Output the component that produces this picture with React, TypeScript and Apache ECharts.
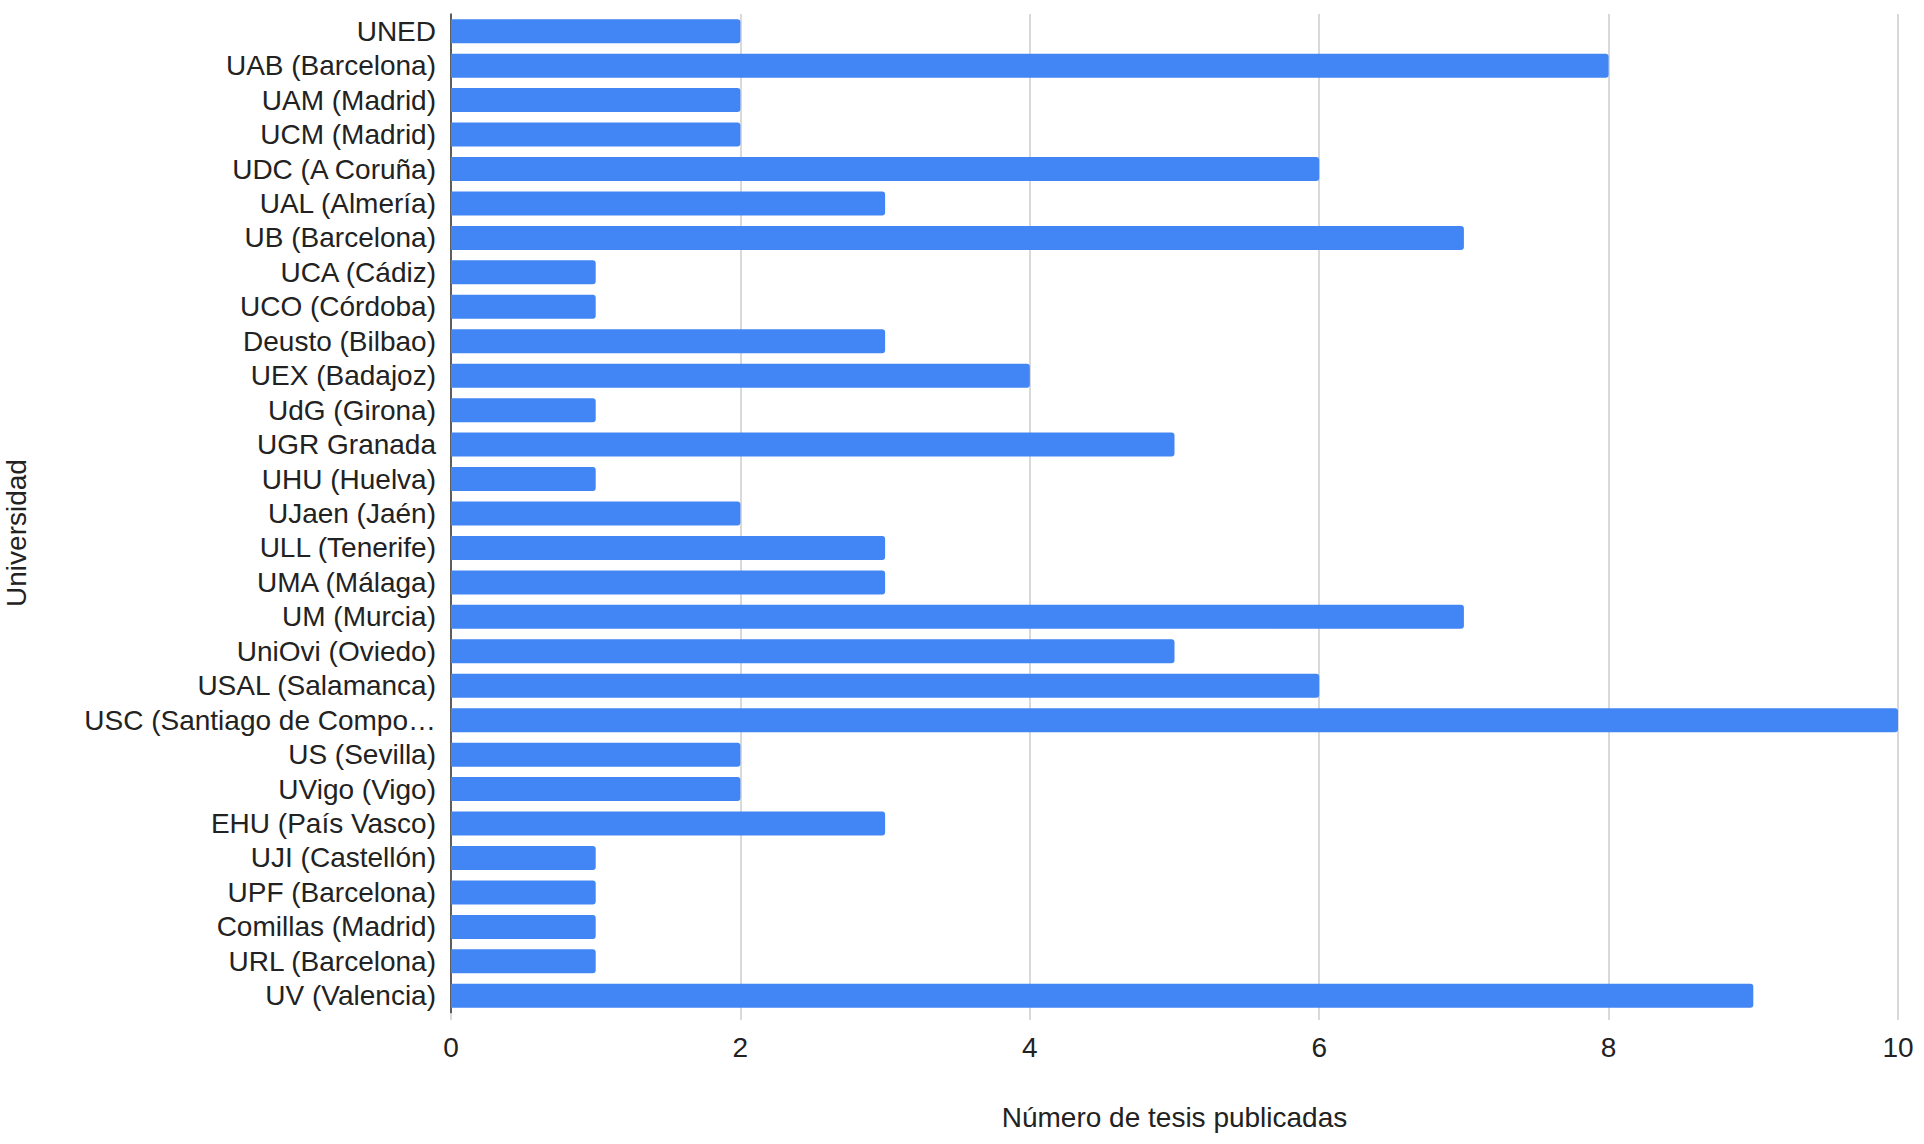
import React, { useEffect, useRef } from "react";
import * as echarts from "echarts";

const universities: string[] = [
  "UNED",
  "UAB (Barcelona)",
  "UAM (Madrid)",
  "UCM (Madrid)",
  "UDC (A Coruña)",
  "UAL (Almería)",
  "UB (Barcelona)",
  "UCA (Cádiz)",
  "UCO (Córdoba)",
  "Deusto (Bilbao)",
  "UEX (Badajoz)",
  "UdG (Girona)",
  "UGR Granada",
  "UHU (Huelva)",
  "UJaen (Jaén)",
  "ULL (Tenerife)",
  "UMA (Málaga)",
  "UM (Murcia)",
  "UniOvi (Oviedo)",
  "USAL (Salamanca)",
  "USC (Santiago de Compo…",
  "US (Sevilla)",
  "UVigo (Vigo)",
  "EHU (País Vasco)",
  "UJI (Castellón)",
  "UPF (Barcelona)",
  "Comillas (Madrid)",
  "URL (Barcelona)",
  "UV (Valencia)",
];

const thesisCounts: number[] = [
  2, 8, 2, 2, 6, 3, 7, 1, 1, 3, 4, 1, 5, 1, 2, 3, 3, 7, 5, 6, 10, 2, 2, 3, 1, 1, 1, 1, 9,
];

const xTicks = { min: 0, max: 10, interval: 2 };
const xTitle = "Número de tesis publicadas";
const yTitle = "Universidad";

const FONT = "'Liberation Sans', Arial, sans-serif";

export default function App() {
  const ref = useRef<HTMLDivElement>(null);

  useEffect(() => {
    if (!ref.current) return;
    const chart = echarts.init(ref.current, undefined, { renderer: "svg" });
    chart.setOption({
      animation: false,
      backgroundColor: "#ffffff",
      textStyle: { fontFamily: FONT },
      grid: { left: 451, right: 26, top: 14, bottom: 131, containLabel: false },
      xAxis: {
        type: "value",
        min: xTicks.min,
        max: xTicks.max,
        interval: xTicks.interval,
        name: xTitle,
        nameLocation: "middle",
        nameGap: 90,
        nameTextStyle: { fontSize: 28, color: "#222", fontFamily: FONT },
        axisLine: { show: false },
        axisTick: { show: true, length: 7, lineStyle: { color: "#cccccc", width: 1.5 } },
        axisLabel: { fontSize: 28, color: "#222", margin: 20, fontFamily: FONT },
        splitLine: { show: true, lineStyle: { color: "#cccccc", width: 1.5 } },
      },
      yAxis: {
        type: "category",
        inverse: true,
        data: universities,
        axisLine: { show: true, lineStyle: { color: "#333333", width: 1.5 } },
        axisTick: { show: false },
        axisLabel: { fontSize: 28, color: "#222", margin: 15, interval: 0, fontFamily: FONT },
        splitLine: { show: false },
      },
      graphic: [
        {
          type: "text",
          x: 16,
          y: 533,
          rotation: Math.PI / 2,
          style: {
            text: yTitle,
            fontSize: 28,
            fill: "#222",
            fontFamily: FONT,
            textAlign: "center",
            textVerticalAlign: "middle",
          },
        },
      ],
      series: [
        {
          type: "bar",
          data: thesisCounts,
          barWidth: 24,
          itemStyle: { color: "#4285f4", borderRadius: [0, 3, 3, 0] },
        },
      ],
    });
    return () => chart.dispose();
  }, []);

  return (
    <div
      ref={ref}
      style={{ position: "absolute", left: 0, top: 0, width: 1924, height: 1144, background: "#fff" }}
    />
  );
}
